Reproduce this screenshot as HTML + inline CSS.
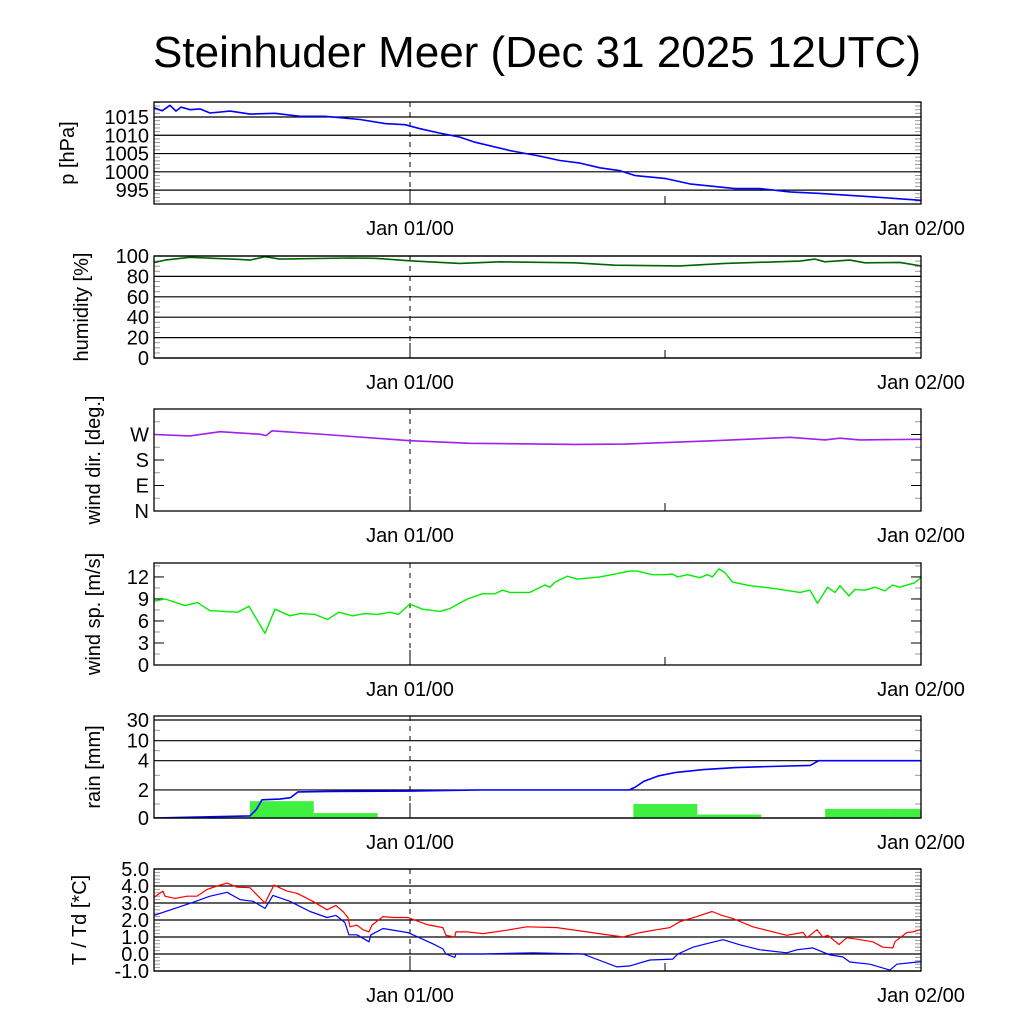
<!DOCTYPE html>
<html><head><meta charset="utf-8">
<style>
html,body{margin:0;padding:0;background:#fff;}
svg{display:block;font-family:"Liberation Sans",Arial,sans-serif;}
</style></head>
<body>
<svg id="chart" width="1024" height="1024" viewBox="0 0 1024 1024" xmlns="http://www.w3.org/2000/svg">
<rect x="0" y="0" width="1024" height="1024" fill="#fff"/>
<text x="537" y="67" font-size="44" text-anchor="middle">Steinhuder Meer (Dec 31 2025 12UTC)</text>
</svg>
<script>
// time in hours since Dec 31 12UTC
const pTime=[0,0.38,0.75,1.03,1.27,1.69,2.16,2.63,3.57,4.5,5.68,6.85,8.03,9.67,10.84,11.78,12.48,13.42,14.36,15.06,16.71,18.11,19.05,19.99,20.93,21.87,22.57,23.98,25.15,27.26,28.44,29.85,31.26,33.6,36];
const pVal=[1017.5,1016.7,1018.2,1016.6,1017.7,1017.0,1017.2,1016.1,1016.6,1015.8,1016.0,1015.2,1015.2,1014.3,1013.2,1012.9,1011.8,1010.6,1009.5,1008.1,1005.8,1004.3,1003.1,1002.4,1001.1,1000.3,999.0,998.2,996.7,995.4,995.4,994.5,994.1,993.2,992.2];
const hTime=[0,0.52,1.69,4.04,4.5,5.21,5.91,9.2,10.37,12.01,14.36,16.24,19.76,21.63,24.68,26.79,30.32,31.02,31.49,32.66,33.37,35.01,36];
const hVal=[93.5,96,98.7,96.7,96,99.3,97,98,97.7,95.3,92.7,94.3,93.3,91,90.3,92.7,95,97,94.3,96,93.3,93.7,90.3];
const dTime=[0,1.69,3.1,4.97,5.26,5.54,8.03,12.01,14.83,19.76,22.1,26.33,29.85,31.49,32.19,33.13,36];
const dVal=[270,265,280,271,266,283,270,248,239,235,236,248,260,251,257,251,253];
const wTime=[0,0.52,1.46,2.04,2.63,3.92,4.46,5.21,5.68,6.38,6.85,7.55,8.14,8.68,9.32,9.9,10.49,11.07,11.47,12.01,12.6,13.42,13.89,14.71,15.42,16.0,16.35,16.7,17.64,18.35,18.58,18.82,19.4,19.87,20.93,22.34,22.69,23.39,23.98,24.33,24.57,25.04,25.62,25.97,26.21,26.51,26.79,27.15,27.97,28.91,30.32,30.79,31.14,31.61,31.96,32.2,32.62,32.9,33.37,33.84,34.3,34.66,35.0,35.7,36];
const wVal=[8.7,9.0,8.1,8.5,7.4,7.2,8.0,4.3,7.6,6.7,7.0,6.9,6.2,7.2,6.7,7.0,6.9,7.2,6.9,8.3,7.6,7.3,7.7,9.0,9.7,9.7,10.2,9.9,9.9,10.9,10.6,11.3,12.1,11.7,12.0,12.8,12.8,12.3,12.3,12.4,12.0,12.3,11.9,12.3,12.0,13.1,12.6,11.3,10.8,10.5,9.9,10.2,8.4,10.6,9.9,10.8,9.4,10.3,10.2,10.6,10.1,10.9,10.6,11.2,11.9];
const rainBinStart=[1.5,4.5,7.5,10.5,13.5,16.5,19.5,22.5,25.5,28.5,31.5,34.5];
const rainBinVal=[0.05,1.2,0.35,0,0,0.03,0,1.0,0.25,0.02,0.65,0.65];
const rainCumTime=[0,1.5,4.5,4.8,5.07,5.9,6.4,6.76,8.26,12,15.3,22.3,22.6,23,23.7,24.5,25.8,27.3,28.9,30.8,31.2,36];
const rainCumVal=[0,0.05,0.15,0.6,1.3,1.35,1.45,1.86,1.9,1.92,2.0,2.0,2.2,2.6,2.97,3.2,3.39,3.53,3.6,3.68,4.0,4.0];
const tTime=[0,0.42,0.52,0.99,1.55,2.02,2.49,2.96,3.43,3.9,4.5,4.97,5.21,5.63,6.24,6.71,7.46,8.12,8.54,8.87,9.1,9.2,9.53,9.81,10.09,10.23,10.75,11.22,11.92,12.81,13.56,13.7,14.12,14.17,14.69,15.44,16.57,17.5,18.91,20.32,22.01,22.81,23.6,24.21,24.68,25.48,26.19,26.66,27.17,28.11,29.7,30.46,30.65,31.12,31.39,31.63,32.15,32.52,33.13,33.74,34.21,34.68,34.77,35.33,35.62,36];
const tVal=[3.34,3.7,3.4,3.27,3.4,3.4,3.8,4.0,4.17,3.93,3.9,3.3,3.0,4.05,3.7,3.57,3.1,2.6,2.86,2.5,2.15,1.6,1.7,1.43,1.3,1.7,2.2,2.15,2.15,1.73,1.55,1.1,1.0,1.3,1.3,1.2,1.4,1.6,1.55,1.3,1.0,1.26,1.43,1.55,1.9,2.2,2.5,2.27,2.08,1.6,1.1,1.27,0.96,1.43,1.0,1.1,0.56,0.96,0.84,0.72,0.4,0.36,0.72,1.26,1.3,1.45];
const tdTime=[0,1.83,2.63,3.43,4.04,4.65,5.21,5.58,6.38,7.32,8.12,8.54,8.96,9.15,9.53,10.09,10.18,10.75,11.92,13.09,13.56,13.7,14.12,14.17,15.44,17.79,20.13,21.73,22.34,23.28,24.35,24.59,25.3,26.1,26.71,27.5,28.44,29.7,30.17,30.92,31.72,32.33,32.66,33.6,34.54,34.87,35.62,36];
const tdVal=[2.27,3.04,3.4,3.63,3.2,3.1,2.68,3.45,3.1,2.5,2.15,2.27,1.85,1.13,1.13,0.72,1.13,1.5,1.26,0.6,0.3,0.0,-0.2,0.0,0.0,0.07,0.0,-0.76,-0.7,-0.35,-0.3,0.0,0.4,0.66,0.84,0.54,0.25,0.07,0.25,0.36,-0.05,-0.17,-0.47,-0.6,-0.95,-0.6,-0.5,-0.45];
const pTicks=[995,1000,1005,1010,1015];
const hTicks=[0,20,40,60,80,100];
const dTicks=[0,90,180,270];
const dLabels=["N","E","S","W"];
const wTicks=[0,3,6,9,12];
const rTicks=[0,2,4,10,30];
const tTicks=[-1,0,1,2,3,4,5];

const svg=document.getElementById('chart');
const NS='http://www.w3.org/2000/svg';
const X0=154,X1=921,PH=102;
function xs(h){return X0+(X1-X0)*h/36;}
function mk(tag,attrs,parent){const e=document.createElementNS(NS,tag);for(const k in attrs)e.setAttribute(k,attrs[k]);(parent||svg).appendChild(e);return e;}
function linY(t0,vmin,vmax){return v=>t0+PH-(v-vmin)/(vmax-vmin)*PH;}
function rainY(t0){const tv=[0,2,4,10,30,40],tf=[0,0.275,0.562,0.758,0.961,1];
 return v=>{for(let i=1;i<tv.length;i++){if(v<=tv[i]){const f=tf[i-1]+(v-tv[i-1])/(tv[i]-tv[i-1])*(tf[i]-tf[i-1]);return t0+PH-f*PH;}}return t0;};}
function pathD(ts,vs,ys){return ts.map((t,i)=>(i?'L':'M')+xs(t).toFixed(1)+','+ys(vs[i]).toFixed(1)).join('');}

function panel(name,t0,ys,ticks,labels,grid,minor,ylabel,lx,fmt){
 const g=mk('g',{});
 
 
 if(minor){minor.forEach(v=>{const y=ys(v);mk('line',{x1:X0,x2:X0+6,y1:y,y2:y,stroke:'#999','stroke-width':1},g);mk('line',{x1:X1-6,x2:X1,y1:y,y2:y,stroke:'#999','stroke-width':1},g);});}
 ticks.forEach((v,i)=>{const y=ys(v);
  if(grid) mk('line',{x1:X0,x2:X1,y1:y,y2:y,stroke:'#000','stroke-width':1.2},g);
  else {mk('line',{x1:X0,x2:X0+10,y1:y,y2:y,stroke:'#000','stroke-width':1},g);mk('line',{x1:X1-10,x2:X1,y1:y,y2:y,stroke:'#000','stroke-width':1},g);}
  const t=mk('text',{x:149,y:y+7,'font-size':20,'text-anchor':'end'},g);
  
  
  t.textContent=labels?labels[i]:(fmt?fmt(v):v);
 });
 const yl=mk('text',{x:0,y:0,'font-size':20,'text-anchor':'middle',transform:'translate('+lx+','+(t0+PH/2)+') rotate(-90)'},g);
 
 
 yl.textContent=ylabel;
 mk('line',{x1:410,x2:410,y1:t0,y2:t0+PH,stroke:'#000','stroke-width':1,'stroke-dasharray':'5,5'},g);
 mk('line',{x1:410,x2:410,y1:t0+PH-15,y2:t0+PH,stroke:'#000','stroke-width':1},g);
 mk('line',{x1:665,x2:665,y1:t0+PH-8,y2:t0+PH,stroke:'#000','stroke-width':1},g);
 [['Jan 01/00',410],['Jan 02/00',921]].forEach(a=>{const t=mk('text',{x:a[1],y:t0+PH+31,'font-size':20,'text-anchor':'middle'},g);
  
  
  t.textContent=a[0];});
 return g;
}
function frame(g,t0){mk('rect',{x:X0,y:t0,width:X1-X0,height:PH,fill:'none',stroke:'#000','stroke-width':1.3},g);}
function line(g,ts,vs,ys,color,w,name,t0){
 const cp=mk('clipPath',{id:'c'+name},g);mk('rect',{x:X0,y:t0,width:X1-X0,height:PH},cp);
 const p=mk('path',{d:pathD(ts,vs,ys),fill:'none',stroke:color,'stroke-width':w,'stroke-linejoin':'round','clip-path':'url(#c'+name+')'},g);
 
 
}
function range(a,b,s){const r=[];for(let v=a;v<=b+1e-9;v+=s)r.push(+v.toFixed(3));return r;}

let PT=102, ys=linY(PT,991.2,1019.1);
let g=panel('pressure',PT,ys,pTicks,null,true,range(992,1019,1),'p [hPa]',74);
line(g,pTime,pVal,ys,'#0000ff',1.6,'pressure-line',PT);frame(g,PT);

PT=256; ys=linY(PT,0,100);
g=panel('humidity',PT,ys,hTicks,null,true,range(0,100,5),'humidity [%]',88);
line(g,hTime,hVal,ys,'#006400',1.6,'humidity-line',PT);frame(g,PT);

PT=409; ys=linY(PT,0,360);
g=panel('wind-dir',PT,ys,dTicks,dLabels,false,range(0,360,45),'wind dir. [deg.]',100);
line(g,dTime,dVal,ys,'#a020f0',1.6,'wind-dir-line',PT);frame(g,PT);

PT=563; ys=linY(PT,0,13.9);
g=panel('wind-speed',PT,ys,wTicks,null,false,range(0,13.5,1.5),'wind sp. [m/s]',100);
line(g,wTime,wVal,ys,'#00ee00',1.4,'wind-speed-line',PT);frame(g,PT);

PT=716; ys=rainY(PT);
g=panel('rain',PT,ys,rTicks,null,true,[1,3,7,20],'rain [mm]',100);
rainBinStart.forEach((s,i)=>{const x0=xs(s),x1=Math.min(xs(s+3),X1),y=ys(rainBinVal[i]);
 if(rainBinVal[i]<=0)return;
 const r=mk('rect',{x:x0,y:y,width:x1-x0,height:PT+PH-y,fill:'#40f040'},g);
 
 });
line(g,rainCumTime,rainCumVal,ys,'#0000ff',1.6,'rain-cumulative-line',PT);
mk('line',{x1:X0,x2:X1,y1:PT+4,y2:PT+4,stroke:'#000','stroke-width':1},g);
frame(g,PT);

PT=869; ys=linY(PT,-1,5);
g=panel('temperature',PT,ys,tTicks,null,true,range(-1,5,0.2),'T / Td [*C]',86,v=>v.toFixed(1));
line(g,tTime,tVal,ys,'#ff0000',1.2,'temperature-line',PT);
line(g,tdTime,tdVal,ys,'#0000ff',1.2,'dewpoint-line',PT);frame(g,PT);
</script>
</body></html>
